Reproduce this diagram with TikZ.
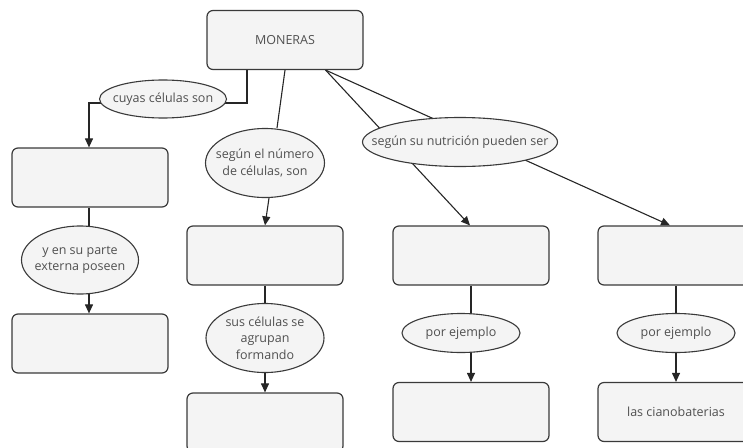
\documentclass[tikz,border=0pt]{standalone}
\usepackage{fontspec}
\setmainfont{Open Sans}
\usetikzlibrary{shapes.geometric,arrows.meta,backgrounds}
\definecolor{boxfill}{HTML}{F4F4F4}
\definecolor{txt}{HTML}{505050}
\definecolor{edge}{HTML}{3A3A3A}
\begin{document}
\begin{tikzpicture}[x=1pt,y=-1pt,
  concept/.style={draw=edge, fill=boxfill, rounded corners=6pt, line width=1.2pt,
    minimum width=156pt, minimum height=59pt, inner sep=0pt, text=txt,
    font=\fontsize{12.5}{16.7}\selectfont, align=center},
  link/.style={ellipse, draw=edge, fill=boxfill, line width=1.1pt, inner sep=0pt,
    label={[text=txt, font=\fontsize{12.5}{16.7}\selectfont, align=center, inner sep=0pt]center:#1}},
  conn/.style={line width=1.1pt, draw=black!85},
  arr/.style={conn, -{Triangle[width=8pt,length=9pt]}}]
\useasboundingbox (0,0) rectangle (743,447);
\clip (0,0) rectangle (743,447);
% concepts
\node[concept] (mon) at (285,40) {MONERAS};
\node[concept] (b1) at (90,177.5) {};
\node[concept] (b2) at (265,255.5) {};
\node[concept] (b3) at (265,422.5) {};
\node[concept] (b4) at (90,343.5) {};
\node[concept] (b5) at (471,255.5) {};
\node[concept] (b6) at (676,255.5) {};
\node[concept] (b7) at (471,412) {};
\node[concept] (b8) at (676,412) {las cianobaterias};
% linking phrases
\node[link={cuyas células son}, minimum width=127pt, minimum height=38pt] (l1) at (163,99) {};
\node[link={según el número\\de células, son}, minimum width=119pt, minimum height=69pt] (l2) at (265,163) {};
\node[link={sus células se\\agrupan\\formando}, minimum width=118pt, minimum height=69pt] (l3) at (265,338) {};
\node[link={y en su parte\\externa poseen}, minimum width=117pt, minimum height=68pt] (l4) at (80,260) {};
\node[link={según su nutrición pueden ser}, minimum width=195pt, minimum height=49pt] (l5) at (460,142) {};
\node[link={por ejemplo}, minimum width=118pt, minimum height=39pt] (l6) at (461,333) {};
\node[link={por ejemplo}, minimum width=118pt, minimum height=39pt] (l7) at (676,333) {};
% connectors
\begin{pgfonlayer}{background}
\draw[conn] ([xshift=-38pt]mon.south) |- ([yshift=-4pt]l1.center);
\draw[arr] ([yshift=-4pt]l1.center) -| ([xshift=-1pt]b1.north);
\draw[conn] (mon.south) -- ([xshift=12pt]l2.north);
\draw[arr] ([xshift=4pt]l2.south) -- (b2.north);
\draw[conn] (b2.south) -- (l3.north);
\draw[arr] (l3.south) -- (b3.north);
\draw[conn] ([xshift=-1pt]b1.south) -- ([xshift=-1pt]b1.south |- l4.center);
\draw[arr] ([xshift=-1pt]b1.south |- l4.center) -- ([xshift=-1pt]b4.north);
\draw[arr] ([xshift=-38pt]mon.south east) -- ([xshift=-1pt]b5.north);
\draw[arr] ([xshift=-38pt]mon.south east) -- ([xshift=-6pt]b6.north);
\draw[conn] (b5.south) -- (b5.south |- l6.center);
\draw[arr] (b5.south |- l6.center) -- (b7.north);
\draw[conn] (b6.south) -- (b6.south |- l7.center);
\draw[arr] (b6.south |- l7.center) -- (b8.north);
\end{pgfonlayer}
\end{tikzpicture}
\end{document}
